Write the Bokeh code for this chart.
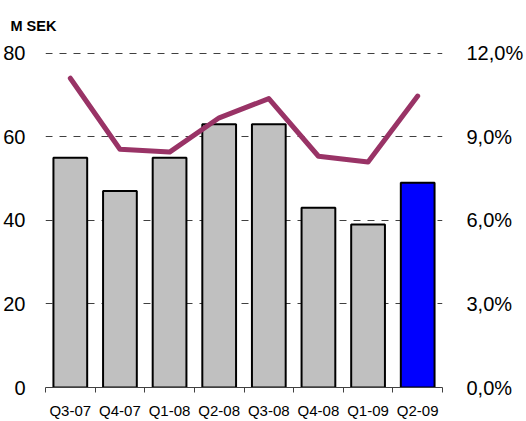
from bokeh.plotting import figure
from bokeh.models import (Range1d, LinearAxis, FixedTicker, ColumnDataSource)
from bokeh.embed import file_html
from bokeh.resources import INLINE

# Quarterly result (M SEK) and margin (%)
quarters = ["Q3-07", "Q4-07", "Q1-08", "Q2-08", "Q3-08", "Q4-08", "Q1-09", "Q2-09"]
result_msek = [55, 47, 55, 63, 63, 43, 39, 49]
margin_pct = [11.10, 8.55, 8.45, 9.68, 10.37, 8.30, 8.09, 10.46]
bar_colors = ["#C0C0C0"] * 7 + ["#0000FF"]

left_ticks = [0, 20, 40, 60, 80]
right_ticks = [0, 3, 6, 9, 12]
right_labels = ["0,0%", "3,0%", "6,0%", "9,0%", "12,0%"]

FONT = "Liberation Sans"

n = len(quarters)
centers = [i + 0.5 for i in range(n)]

# a hair of headroom so the top grid line is drawn
top_pad = 1.002

p = figure(width=526, height=421, output_backend="svg", toolbar_location=None,
           x_range=Range1d(0, n), y_range=Range1d(0, 80 * top_pad),
           min_border_left=43, min_border_right=74,
           min_border_top=52, min_border_bottom=31,
           background_fill_color="white", border_fill_color="white")
p.outline_line_color = None
p.extra_y_ranges = {"pct": Range1d(0, 12 * top_pad)}

# unit caption in the top-left corner (blank second line lifts it clear of the frame)
p.title.text = "M SEK\n "
p.title.align = "left"
p.title.offset = -35
p.title.standoff = 6
p.title.text_font = FONT
p.title.text_font_size = "14.5px"
p.title.text_font_style = "bold"
p.title.text_color = "black"

src = ColumnDataSource(dict(x=centers, top=result_msek, color=bar_colors,
                            pct=margin_pct))
p.vbar(x="x", top="top", width=0.68, bottom=0, source=src,
       fill_color="color", line_color="black", line_width=2)
p.line(x="x", y="pct", source=src, y_range_name="pct",
       line_color="#993366", line_width=5, line_join="round", line_cap="round")

# bottom axis: labels at category centres, tick marks at boundaries
xaxis = p.xaxis[0]
xaxis.ticker = FixedTicker(ticks=centers, minor_ticks=list(range(n + 1)))
xaxis.major_label_overrides = {c: q for c, q in zip(centers, quarters)}
xaxis.major_tick_line_color = None
xaxis.major_tick_out = 0
xaxis.major_tick_in = 0
xaxis.minor_tick_line_color = "#404040"
xaxis.minor_tick_out = 5
xaxis.minor_tick_in = 0
xaxis.axis_line_color = "#404040"
xaxis.axis_line_width = 1
xaxis.major_label_text_font = FONT
xaxis.major_label_text_font_size = "15px"
xaxis.major_label_text_color = "black"
xaxis.major_label_standoff = 9

# left value axis
yaxis = p.yaxis[0]
yaxis.ticker = FixedTicker(ticks=left_ticks)
yaxis.axis_line_color = None
yaxis.major_tick_line_color = None
yaxis.minor_tick_line_color = None
yaxis.major_label_text_font = FONT
yaxis.major_label_text_font_size = "20px"
yaxis.major_label_text_color = "black"
yaxis.major_label_standoff = 14

# right percentage axis
raxis = LinearAxis(y_range_name="pct", ticker=FixedTicker(ticks=right_ticks))
raxis.major_label_overrides = {t: s for t, s in zip(right_ticks, right_labels)}
raxis.axis_line_color = None
raxis.major_tick_line_color = None
raxis.minor_tick_line_color = None
raxis.major_label_text_font = FONT
raxis.major_label_text_font_size = "20px"
raxis.major_label_text_color = "black"
raxis.major_label_standoff = 18
p.add_layout(raxis, "right")

p.xgrid.grid_line_color = None
p.ygrid.ticker = FixedTicker(ticks=[20, 40, 60, 80])
p.ygrid.grid_line_color = "#404040"
p.ygrid.grid_line_dash = "7 7"
p.ygrid.grid_line_width = 1

open("out.html", "w").write(file_html(p, INLINE))
